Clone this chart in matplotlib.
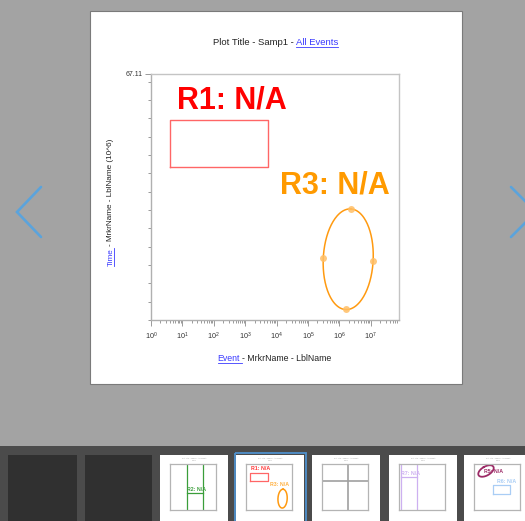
import numpy as np
import matplotlib
matplotlib.use('Agg')
import matplotlib.pyplot as plt
from matplotlib.patches import Rectangle
from matplotlib.transforms import IdentityTransform

plt.rcParams['font.family'] = ['Liberation Sans', 'DejaVu Sans']
plt.rcParams['mathtext.fontset'] = 'custom'
plt.rcParams['mathtext.rm'] = 'Liberation Sans'

# ---- data ----
x_max = 10 ** 7.9
y_max = 67.11
y_minor = list(range(0, 66, 5))

r1_x = [4.06, 5160]
r1_y = [41.7, 54.6]
r1_label = "R1: N/A"
r1_label_xy = (6.8, 57.7)

# R3 ellipse handles: top, right, bottom, left
r3_hx = [2.34e6, 1.19e7, 1.62e6, 2.98e5]
r3_hy = [30.3, 16.1, 3.0, 16.9]
r3_label = "R3: N/A"
r3_label_xy = (1.25e4, 34.4)

# thumbnails
r2_x = [720, 5e5]
r2_y = 24.5
r2_label_xy = (1000, 27.0)
quad_x = 2.9e4
quad_y = 42.3
r7_x = [2.2, 1200]
r7_y = 48
r7_label_xy = (2.2, 51)
r5_hx = [10 ** 1.674, 10 ** 3.33, 10 ** 2.446, 10 ** 0.79]
r5_hy = [62.6, 63.1, 51.2, 50.7]
r5_label_xy = (52, 54)
r6_x = [1820, 1.5e6]
r6_y = [23.3, 36.4]
r6_label_xy = (8900, 39.3)

W, H = 525, 521
fig = plt.figure(figsize=(W / 100, H / 100), dpi=100, facecolor='#a3a3a3')


def box(x0, y0, x1, y1):
    return [x0 / W, 1 - y1 / H, (x1 - x0) / W, (y1 - y0) / H]


def ellipse(hx, hy):
    lx = np.log10(hx)
    hy = np.asarray(hy)
    cx = (lx[0] + lx[2] + lx[1] + lx[3]) / 4
    cy = (hy[0] + hy[2] + hy[1] + hy[3]) / 4
    t = np.linspace(0, 2 * np.pi, 200)
    ex = cx + (lx[0] - cx) * np.cos(t) + (lx[1] - cx) * np.sin(t)
    ey = cy + (hy[0] - cy) * np.cos(t) + (hy[1] - cy) * np.sin(t)
    return 10 ** ex, ey


# background / viewer chrome
bg = fig.add_axes([0, 0, 1, 1])
bg.set_xlim(0, W)
bg.set_ylim(H, 0)
bg.axis('off')
bg.add_patch(Rectangle((90, 11), 372, 373, fc='white', ec='#7a7a7a', lw=0.8))
bg.add_patch(Rectangle((0, 446), W, 80, fc='#4b4b4b', lw=0))
bg.add_patch(Rectangle((8, 455), 69, 70, fc='#303030', lw=0))
bg.add_patch(Rectangle((85, 455), 67, 70, fc='#303030', lw=0))
thumb_left = [160, 236, 312, 389, 464]
for tx in thumb_left:
    bg.add_patch(Rectangle((tx, 455), 68, 70, fc='white', lw=0))
    bg.text(tx + 34, 458, "Plot Title - Samp1 - All Events", fontsize=1.4,
            color='#999999', ha='center', va='center')
    bg.text(tx + 34, 460.5, "Samp1", fontsize=1.2, color='#999999',
            ha='center', va='center')
bg.add_patch(Rectangle((234.5, 452.5), 71, 75, fill=False, ec='#4f90cc', lw=1.3))
bg.plot([41, 17, 41], [187, 212, 237], color='#5ba3dc', lw=1.9,
        solid_capstyle='round', solid_joinstyle='miter')
bg.plot([511, 536, 511], [187, 212, 237], color='#5ba3dc', lw=1.9,
        solid_capstyle='round', solid_joinstyle='miter')

# main plot
ax = fig.add_axes(box(151, 74, 399, 320))
ax.set_xscale('log')
ax.set_xlim(1, x_max)
ax.set_ylim(0, y_max)
ax.set_yticks([y_max])
ax.set_yticklabels(['67.11'])
ax.set_yticks(y_minor, minor=True)
for s in ax.spines.values():
    s.set_color('#c4c4c4')
    s.set_linewidth(1.0)
ax.spines['left'].set_color('#b0b0b0')
ax.spines['bottom'].set_color('#b0b0b0')
ax.tick_params(which='both', direction='out', color='#9a9a9a', width=0.7,
               labelcolor='#333333')
ax.tick_params(which='major', length=4.5, pad=1.5)
ax.tick_params(which='minor', length=2.5)
ax.tick_params(axis='x', labelsize=5.2, pad=3)
ax.tick_params(axis='y', labelsize=5)
ax.xaxis.set_minor_formatter(plt.NullFormatter())

ax.plot([r1_x[0], r1_x[1], r1_x[1], r1_x[0], r1_x[0]],
        [r1_y[0], r1_y[0], r1_y[1], r1_y[1], r1_y[0]], color='#ff6666', lw=1.0)
ax.text(*r1_label_xy, r1_label, fontsize=22, fontweight='bold', color='#ff0000',
        ha='left', va='baseline')
ex, ey = ellipse(r3_hx, r3_hy)
ax.plot(ex, ey, color='#ff9a10', lw=1.1)
ax.plot(r3_hx, r3_hy, 'o', ms=5, color='#ffbf66', alpha=0.85, mec='none')
ax.text(*r3_label_xy, r3_label, fontsize=22, fontweight='bold', color='#ff9a00',
        ha='left', va='baseline')

# multi-colour labels
rend = fig.canvas.get_renderer()
BLUE = '#3a3aff'
DARK = '#222222'


def text_w(s, size):
    t = fig.text(0, 0, s, fontsize=size)
    w = t.get_window_extent(rend).width
    t.remove()
    return w


def rich(cx, cy, parts, size, rot=0):
    gap = text_w('| |', size) - text_w('||', size)
    ws = [text_w(s.strip(), size) for s, c, u in parts]
    total = sum(ws) + gap * (len(parts) - 1)
    pos = -total / 2
    for (s, c, u), w in zip(parts, ws):
        ul = w + (gap if s.endswith(' ') else 0)
        if rot == 0:
            fig.text(cx + pos, H - cy, s.strip(), fontsize=size, color=c,
                     transform=IdentityTransform(), ha='left', va='baseline')
            if u:
                fig.add_artist(plt.Line2D([cx + pos, cx + pos + ul], [H - cy - 1.5] * 2,
                                          color=c, lw=0.6, transform=IdentityTransform()))
        else:
            fig.text(cx, H - cy + pos, s.strip(), fontsize=size, color=c, rotation=90,
                     rotation_mode='anchor', transform=IdentityTransform(),
                     ha='left', va='baseline')
            if u:
                fig.add_artist(plt.Line2D([cx + 1.5] * 2, [H - cy + pos, H - cy + pos + ul],
                                          color=c, lw=0.6, transform=IdentityTransform()))
        pos += w + gap


rich(275.5, 45, [("Plot Title - Samp1 -", DARK, False), ("All Events", BLUE, True)], 6.8)
rich(274.5, 361, [("Event ", BLUE, True), ("- MrkrName - LblName", DARK, False)], 6.3)
rich(112.5, 202.5, [("Time", BLUE, True), ("- MrkrName - LblName (10^6)", DARK, False)],
     5.9, rot=90)

# thumbnails
thumb_axes = []
for tx in thumb_left:
    ta = fig.add_axes(box(tx + 10, 464, tx + 56, 510))
    ta.set_xscale('log')
    ta.set_xlim(1, x_max)
    ta.set_ylim(0, y_max)
    ta.set_xticks([])
    ta.set_yticks([])
    ta.minorticks_off()
    for s in ta.spines.values():
        s.set_color('#b4b4b4')
        s.set_linewidth(0.9)
    thumb_axes.append(ta)

t1, t2, t3, t4, t5 = thumb_axes
for xv in r2_x:
    t1.axvline(xv, color='#3a9e3a', lw=0.9)
t1.plot(r2_x, [r2_y, r2_y], color='#3a9e3a', lw=0.9)
t1.text(*r2_label_xy, "R2: N/A", fontsize=3.8, fontweight='bold', color='#3a9e3a',
        va='baseline')

t2.plot([r1_x[0], r1_x[1], r1_x[1], r1_x[0], r1_x[0]],
        [r1_y[0], r1_y[0], r1_y[1], r1_y[1], r1_y[0]], color='#ff6666', lw=0.9)
t2.text(*r1_label_xy, r1_label, fontsize=3.8, fontweight='bold', color='#ff3333',
        va='baseline')
t2.plot(ex, ey, color='#ff9a10', lw=1.1)
t2.text(*r3_label_xy, r3_label, fontsize=3.8, fontweight='bold', color='#ffb040',
        va='baseline')

t3.axvline(quad_x, color='#a0a0a0', lw=1.2)
t3.axhline(quad_y, color='#a0a0a0', lw=1.2)

for xv in r7_x:
    t4.axvline(xv, color='#cdb0f0', lw=0.9)
t4.plot(r7_x, [r7_y, r7_y], color='#cdb0f0', lw=0.9)
t4.text(*r7_label_xy, "R7: N/A", fontsize=3.8, fontweight='bold', color='#cdb0f0',
        va='baseline')

e5x, e5y = ellipse(r5_hx, r5_hy)
t5.text(*r5_label_xy, "R5: N/A", fontsize=3.8, fontweight='bold', color='#9c2a66',
        va='baseline')
t5.plot(e5x, e5y, color='#9c2a66', lw=1.3)
t5.plot([r6_x[0], r6_x[1], r6_x[1], r6_x[0], r6_x[0]],
        [r6_y[0], r6_y[0], r6_y[1], r6_y[1], r6_y[0]], color='#a9cdf5', lw=0.9)
t5.text(*r6_label_xy, "R6: N/A", fontsize=3.8, fontweight='bold', color='#a9cdf5',
        va='baseline')

fig.savefig('out.png', dpi=100, facecolor=fig.get_facecolor())
